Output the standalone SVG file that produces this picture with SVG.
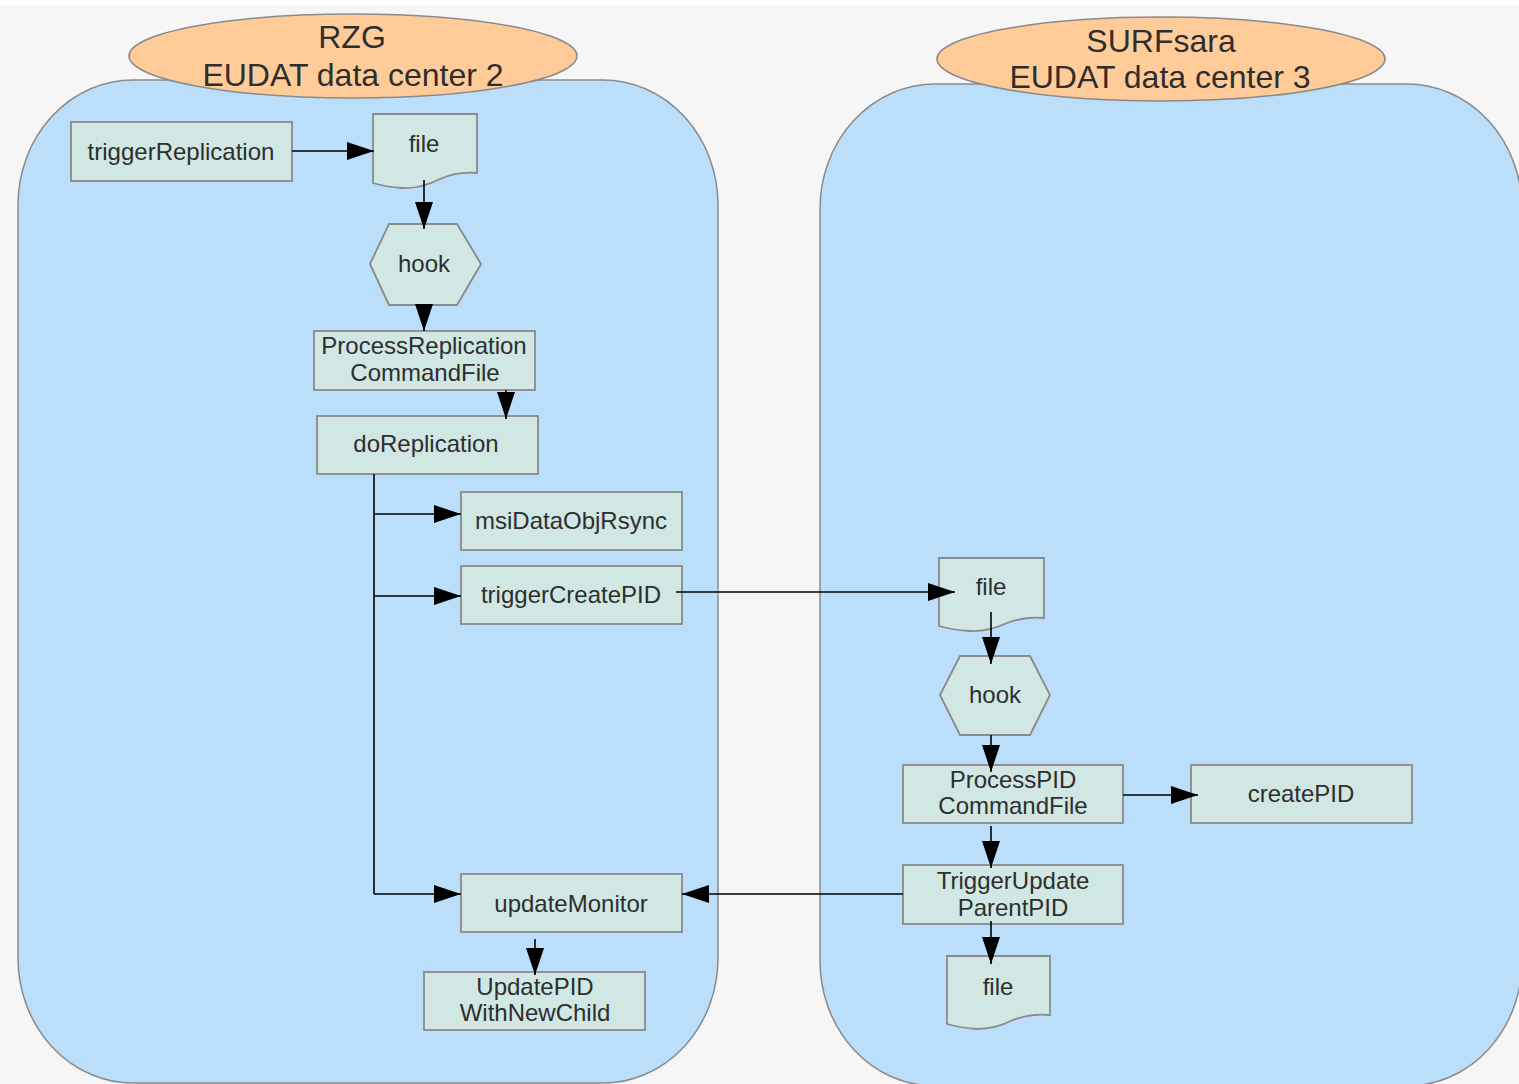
<svg xmlns="http://www.w3.org/2000/svg" width="1519" height="1084" viewBox="0 0 1519 1084">
<defs>
<style>
.bg{fill:#f6f6f6}
.cont{fill:#bbdefa;stroke:#8a8a8a;stroke-width:1.5}
.ell{fill:#ffcc99;stroke:#8a8a8a;stroke-width:1.5}
.node{fill:#d0e7e3;stroke:#8a8a8a;stroke-width:1.8}
.t{font-family:"Liberation Sans",Arial,sans-serif;font-size:24px;fill:#2e2e2e;text-anchor:middle}
.tt{font-family:"Liberation Sans",Arial,sans-serif;font-size:32px;fill:#2e2e2e;text-anchor:middle}
.c{fill:none;stroke:#000;stroke-width:1.6;marker-end:url(#ah)}
.l{fill:none;stroke:#000;stroke-width:1.6}
</style>
<marker id="ah" markerUnits="userSpaceOnUse" markerWidth="28" markerHeight="20" refX="27" refY="9" orient="auto" viewBox="0 0 28 20">
<path d="M0,0 L27,9 L0,18 z" fill="#000"/>
</marker>
</defs>
<rect class="bg" x="0" y="0" width="1519" height="1084"/>
<rect x="0" y="0" width="1519" height="5" fill="#ffffff"/>

<g id="container-rzg">
<rect class="cont" x="18" y="80" width="700" height="1003" rx="115" ry="125"/>
<ellipse class="ell" cx="353" cy="56" rx="224" ry="42"/>
<text class="tt" x="352" y="48">RZG</text>
<text class="tt" x="353" y="86">EUDAT data center 2</text>
</g>
<g id="container-surfsara">
<rect class="cont" x="820" y="84" width="702" height="1002" rx="115" ry="125"/>
<ellipse class="ell" cx="1161" cy="59" rx="224" ry="42"/>
<text class="tt" x="1161" y="52">SURFsara</text>
<text class="tt" x="1160" y="88">EUDAT data center 3</text>
</g>

<g id="n-triggerReplication"><rect class="node" x="71" y="122" width="221" height="59"/><text class="t" x="181" y="160">triggerReplication</text></g>
<g id="n-file1"><path class="node" d="M373,114 H477 V173 Q458,171 440,179 Q420,189 402,188 Q386,187 373,183 Z"/><text class="t" x="424" y="152">file</text></g>
<g id="n-hook1"><polygon class="node" points="370,264 389,224 457,224 481,264 457,305 389,305"/><text class="t" x="424" y="272">hook</text></g>
<g id="n-processReplication"><rect class="node" x="314" y="331" width="221" height="59"/><text class="t" x="424" y="354">ProcessReplication</text><text class="t" x="425" y="381">CommandFile</text></g>
<g id="n-doReplication"><rect class="node" x="317" y="416" width="221" height="58"/><text class="t" x="426" y="452">doReplication</text></g>
<g id="n-msiDataObjRsync"><rect class="node" x="461" y="492" width="221" height="58"/><text class="t" x="571" y="529">msiDataObjRsync</text></g>
<g id="n-triggerCreatePID"><rect class="node" x="461" y="566" width="221" height="58"/><text class="t" x="571" y="603">triggerCreatePID</text></g>
<g id="n-updateMonitor"><rect class="node" x="461" y="874" width="221" height="58"/><text class="t" x="571" y="912">updateMonitor</text></g>
<g id="n-updatePID"><rect class="node" x="424" y="972" width="221" height="58"/><text class="t" x="535" y="995">UpdatePID</text><text class="t" x="535" y="1021">WithNewChild</text></g>

<g id="n-file2"><path class="node" d="M939,558 H1044 V618 Q1025,616 1007,623 Q988,632 969,631 Q953,630 939,626 Z"/><text class="t" x="991" y="595">file</text></g>
<g id="n-hook2"><polygon class="node" points="940,695 960,656 1030,656 1050,695 1030,735 960,735"/><text class="t" x="995" y="703">hook</text></g>
<g id="n-processPID"><rect class="node" x="903" y="765" width="220" height="58"/><text class="t" x="1013" y="788">ProcessPID</text><text class="t" x="1013" y="814">CommandFile</text></g>
<g id="n-createPID"><rect class="node" x="1191" y="765" width="221" height="58"/><text class="t" x="1301" y="802">createPID</text></g>
<g id="n-triggerUpdate"><rect class="node" x="903" y="865" width="220" height="59"/><text class="t" x="1013" y="889">TriggerUpdate</text><text class="t" x="1013" y="916">ParentPID</text></g>
<g id="n-file3"><path class="node" d="M947,956 H1050 V1015 Q1031,1013 1013,1020 Q995,1029 977,1029 Q961,1028 947,1024 Z"/><text class="t" x="998" y="995">file</text></g>

<g id="connectors">
<path class="c" d="M292,151 H374"/>
<path class="c" d="M424,180 V229"/>
<path class="c" d="M424,305 V331"/>
<path class="c" d="M506,390 V419"/>
<path class="l" d="M374,474 V894"/>
<path class="c" d="M374,514 H461"/>
<path class="c" d="M374,596 H461"/>
<path class="c" d="M374,894 H461"/>
<path class="c" d="M676,592 H955"/>
<path class="c" d="M991,612 V664"/>
<path class="c" d="M991,735 V772"/>
<path class="c" d="M1123,795 H1198"/>
<path class="c" d="M991,826 V868"/>
<path class="c" d="M991,921 V964"/>
<path class="c" d="M903,894 H682"/>
<path class="c" d="M535,939 V975"/>
</g>
</svg>
